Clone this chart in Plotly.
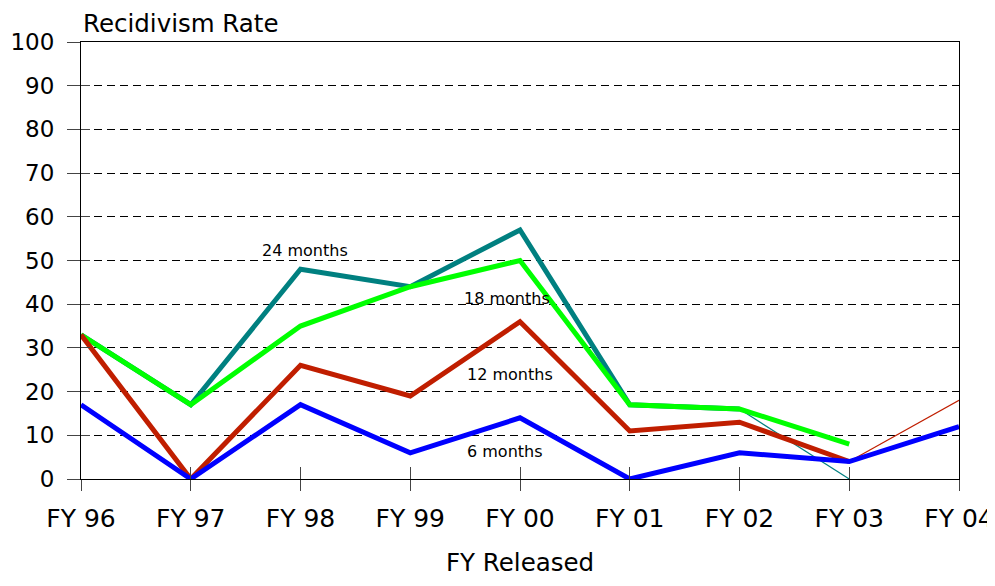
import plotly.graph_objects as go

categories = ["FY 96", "FY 97", "FY 98", "FY 99", "FY 00", "FY 01", "FY 02", "FY 03", "FY 04"]

m24 = [33, 17, 48, 44, 57, 17, 16, None, None]
m24_tail = [None, None, None, None, None, None, 16, 0, None]
m18 = [33, 17, 35, 44, 50, 17, 16, 8, None]
m12 = [33, 0, 26, 19, 36, 11, 13, 4, None]
m12_tail = [None, None, None, None, None, None, None, 4, 18]
m6 = [17, 0, 17, 6, 14, 0, 6, 4, 12]

series_labels = ["24 months", "18 months", "12 months", "6 months"]
label_x = [2.04, 3.88, 3.91, 3.86]
label_y = [52.3, 41.4, 23.8, 6.2]

TEAL = "#008080"
GREEN = "#00FF00"
RED = "#C01E00"
BLUE = "#0000FF"
FONT = "DejaVu Sans"

fig = go.Figure()

def add(y, color, width):
    fig.add_trace(go.Scatter(x=categories, y=y, mode="lines",
                             line=dict(color=color, width=width),
                             connectgaps=False, cliponaxis=False,
                             showlegend=False, hoverinfo="skip"))

add(m24, TEAL, 5)
add(m24_tail, TEAL, 1.2)
add(m18, GREEN, 5)
add(m12, RED, 5)
add(m12_tail, RED, 1.2)
add(m6, BLUE, 5)

# dummy trace for overlay axes (inner tick marks)
fig.add_trace(go.Scatter(x=categories, y=[None] * len(categories), xaxis="x2", yaxis="y2",
                         mode="lines", showlegend=False, hoverinfo="skip"))

for txt, lx, ly in zip(series_labels, label_x, label_y):
    fig.add_annotation(x=lx, y=ly, text=txt, showarrow=False,
                       font=dict(family=FONT, size=16, color="black"),
                       xanchor="center", yanchor="middle")

fig.add_annotation(xref="paper", yref="paper", x=0.0, y=1.042, text="Recidivism Rate",
                   showarrow=False, xanchor="left", yanchor="middle",
                   font=dict(family=FONT, size=24.5, color="black"))
fig.add_annotation(xref="paper", yref="paper", x=0.5, y=-0.19, text="FY Released",
                   showarrow=False, xanchor="center", yanchor="middle",
                   font=dict(family=FONT, size=24.5, color="black"))

fig.update_layout(
    width=987, height=570,
    margin=dict(l=73, r=36, t=34, b=99, autoexpand=False),
    paper_bgcolor="white", plot_bgcolor="white",
    font=dict(family=FONT, color="black"),
    xaxis=dict(type="category", range=[0, 8], showline=True, linecolor="black", linewidth=1,
               mirror=True, ticks="outside", ticklen=11, tickcolor="#444", tickwidth=1,
               tickfont=dict(family=FONT, size=25, color="black"), showgrid=False,
               zeroline=False, ticklabelstandoff=6, automargin=False),
    yaxis=dict(range=[0, 100], dtick=10, showline=True, linecolor="black", linewidth=1,
               mirror=True, ticks="outside", ticklen=13, tickcolor="#444",
               tickfont=dict(family=FONT, size=23, color="black"), showgrid=True,
               gridcolor="black", gridwidth=1, griddash="8px,5px", zeroline=False,
               ticklabelstandoff=8, automargin=False),
    xaxis2=dict(type="category", overlaying="x", range=[0, 8], ticks="inside", ticklen=12,
                tickcolor="#444", showticklabels=False, showgrid=False, showline=False,
                zeroline=False, automargin=False),
    yaxis2=dict(overlaying="y", range=[0, 100], dtick=10, ticks="inside", ticklen=9,
                tickcolor="#444", showticklabels=False, showgrid=False, showline=False,
                zeroline=False, automargin=False),
)

fig.write_html("out.html")
